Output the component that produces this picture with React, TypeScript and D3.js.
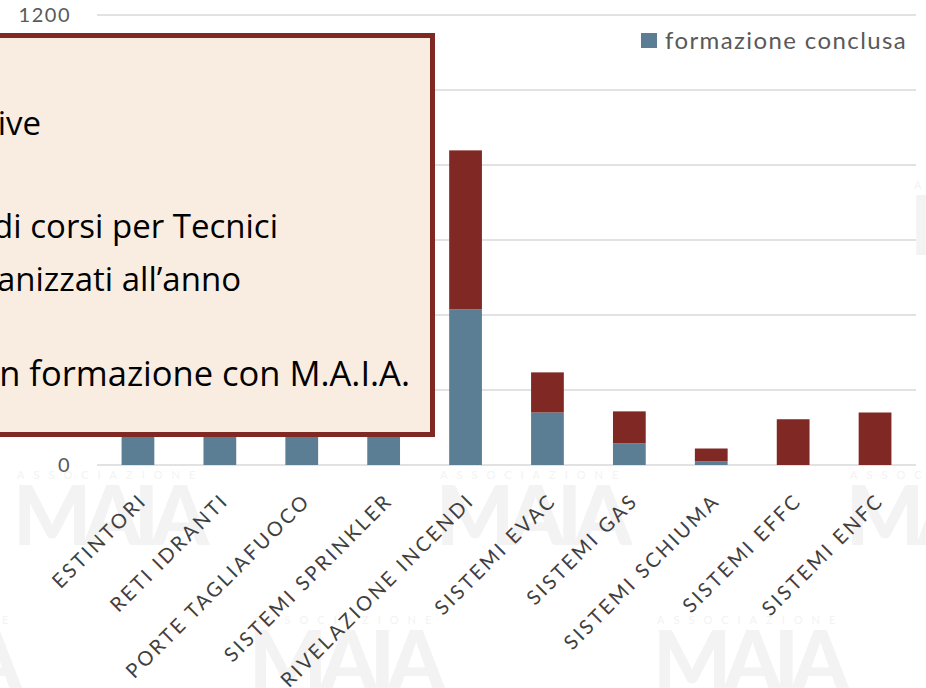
import React from "react";
import * as d3 from "d3";

// categories and series (first four partly hidden by the box)
const categories = [
  "ESTINTORI",
  "RETI IDRANTI",
  "PORTE TAGLIAFUOCO",
  "SISTEMI SPRINKLER",
  "RIVELAZIONE INCENDI",
  "SISTEMI EVAC",
  "SISTEMI GAS",
  "SISTEMI SCHIUMA",
  "SISTEMI EFFC",
  "SISTEMI ENFC",
];
const concluded = [520, 470, 380, 330, 415, 140, 58, 10, 0, 0];
const inProgress = [330, 290, 240, 210, 424, 107, 85, 34, 122, 140];
const yTicks = [0, 200, 400, 600, 800, 1000, 1200];
const yLabels = [0, 1200];

const boxLines = [
  "Iniziative formative",
  "Numero di corsi per Tecnici",
  "Manutentori organizzati all\u2019anno",
  "Tecnici in formazione con M.A.I.A.",
];

const BLUE = "#5b7e94";
const RED = "#802924";
const W = 926;
const H = 688;

const wmRows = [
  { y: 185, xs: [914] },
  { y: 475, xs: [17, 440, 850] },
  { y: 620, xs: [-170, 253, 657] },
];

const App: React.FC = () => {
  const x = d3.scaleBand<string>().domain(categories).range([97, 916]).paddingInner(0.6).paddingOuter(0.3);
  const y = d3.scaleLinear().domain([0, 1200]).range([465, 15]);

  const rows = categories.map((c, i) => ({ c, a: concluded[i], b: inProgress[i] }));
  const stack = d3.stack<{ c: string; a: number; b: number }>().keys(["a", "b"])(rows);
  const colors = [BLUE, RED];

  return (
    <svg width={W} height={H} style={{ position: "absolute", left: 0, top: 0, background: "#fff" }}>
      {/* faint background watermark */}
      <g fill="#f3f3f3" fontFamily="Lato" fontWeight={900}>
        {wmRows.map((r, ri) =>
          r.xs.map((wx, k) => (
            <g key={`${ri}-${k}`}>
              <text x={wx} y={r.y + 4} fontSize={11} letterSpacing={9} fontWeight={400}>
                ASSOCIAZIONE
              </text>
              <text x={wx - 4} y={r.y + 70} fontSize={82} textLength={196}>
                MAIA
              </text>
            </g>
          ))
        )}
      </g>

      {/* grid */}
      {yTicks.map((t) => (
        <line key={t} x1={97} x2={916} y1={y(t)} y2={y(t)} stroke="#d9d9d9" strokeWidth={1.5} />
      ))}

      {/* bars */}
      {stack.map((s, si) =>
        s.map((d, i) =>
          d[1] - d[0] > 0 ? (
            <rect
              key={`${si}-${i}`}
              x={x(categories[i])}
              width={x.bandwidth()}
              y={y(d[1])}
              height={y(d[0]) - y(d[1])}
              fill={colors[si]}
            />
          ) : null
        )
      )}

      {/* y labels */}
      {yLabels.map((t) => (
        <text
          key={t}
          x={71}
          y={y(t) + 7}
          textAnchor="end"
          fontFamily="Lato"
          fontSize={20}
          letterSpacing={1.5}
          fill="#595959"
        >
          {t}
        </text>
      ))}

      {/* x labels */}
      {categories.map((c) => {
        const cx = (x(c) ?? 0) + x.bandwidth() / 2 + 10;
        return (
          <text
            key={c}
            transform={`translate(${cx},502) rotate(-45)`}
            textAnchor="end"
            fontFamily="Lato"
            fontSize={20}
            letterSpacing={2.6}
            fill="#404040"
          >
            {c}
          </text>
        );
      })}

      {/* legend */}
      <rect x={641} y={33} width={16} height={15} fill={BLUE} />
      <text x={665} y={49} fontFamily="Lato" fontSize={24} letterSpacing={1.4} fill="#595959">
        formazione conclusa
      </text>

      {/* overlay box */}
      <rect x={-10} y={35.5} width={442.5} height={399} fill="#f9ede2" stroke={RED} strokeWidth={5} />
      <g fontFamily="Open Sans" fontSize={33} fill="#000">
        <text x={41} y={135} textAnchor="end">{boxLines[0]}</text>
        <text x={278} y={238} textAnchor="end">{boxLines[1]}</text>
        <text x={241} y={291} textAnchor="end">{boxLines[2]}</text>
        <text x={410} y={386} textAnchor="end" fontSize={34.5}>{boxLines[3]}</text>
      </g>
    </svg>
  );
};

export default App;
